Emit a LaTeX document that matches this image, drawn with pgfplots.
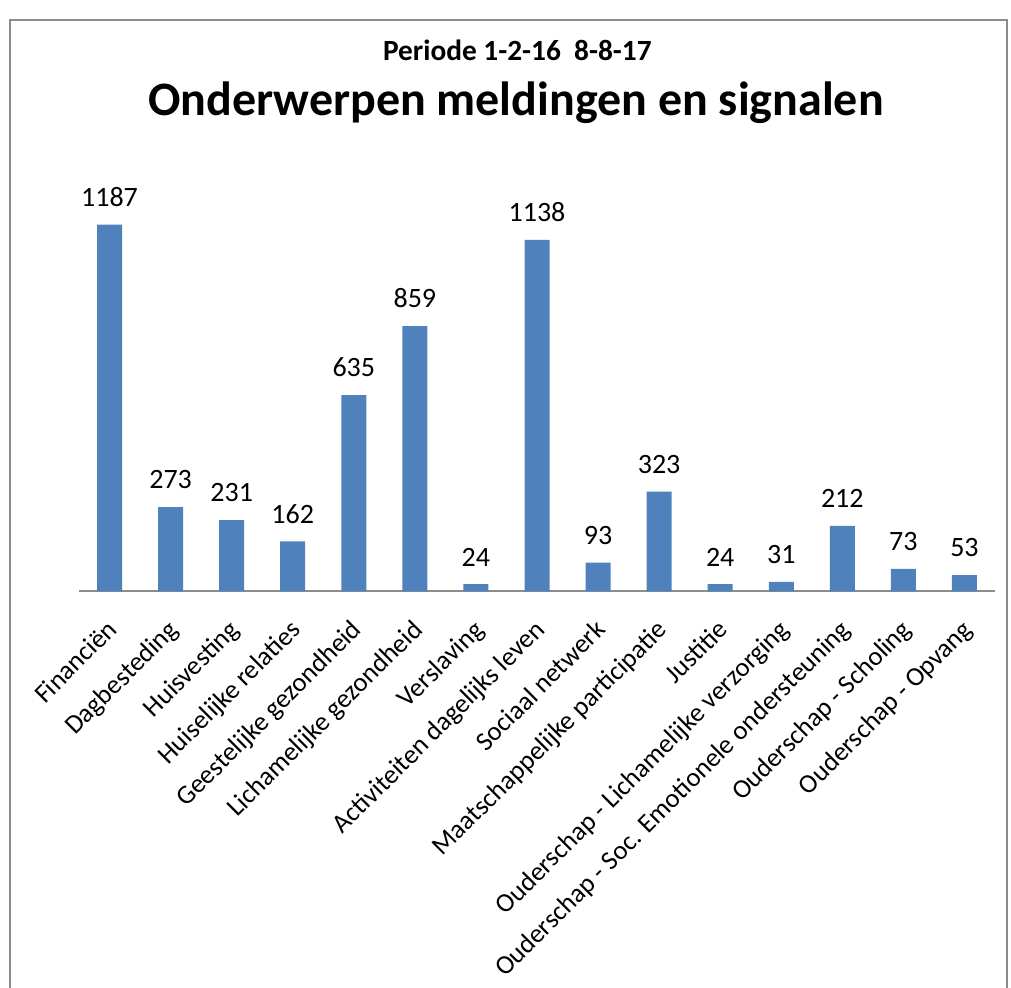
\documentclass[border=0pt]{standalone}
\usepackage{pgfplots}
\pgfplotsset{compat=1.18}
\usepackage{fontspec}
\setmainfont{Carlito}
\definecolor{barblue}{HTML}{4F81BD}
\definecolor{framegray}{HTML}{8C8C8C}
\begin{document}
\begin{tikzpicture}
\useasboundingbox (0,0) rectangle (758.25pt,741pt);
\draw[framegray, line width=1.5pt] (7.5pt,-20pt) -- (7.5pt,726pt) -- (755.5pt,726pt) -- (755.5pt,-20pt);
\node[font=\bfseries\fontsize{22}{26}\selectfont] at (388pt,703pt) {Periode 1-2-16\ \ 8-8-17};
\node[font=\bfseries\fontsize{36}{42}\selectfont] at (387pt,664pt) {Onderwerpen meldingen en signalen};
\begin{axis}[
  at={(59.25pt,297.4pt)}, anchor=south west,
  scale only axis, width=687pt, height=278.1pt,
  xmin=-0.5, xmax=14.5, ymin=0, ymax=1200,
  axis x line*=bottom, hide y axis,
  x axis line style={framegray, line width=1.5pt, -},
  xtick=data, major tick length=0pt,
  xticklabels={Financiën,Dagbesteding,Huisvesting,Huiselijke relaties,Geestelijke gezondheid,Lichamelijke gezondheid,Verslaving,Activiteiten dagelijks leven,Sociaal netwerk,Maatschappelijke participatie,Justitie,Ouderschap - Lichamelijke verzorging,Ouderschap - Soc. Emotionele ondersteuning,Ouderschap - Scholing,Ouderschap - Opvang},
  xticklabel style={xshift=-3pt, yshift=-17pt, rotate=45, anchor=north east, font=\fontsize{20}{24}\selectfont, inner sep=2pt},
  /pgf/number format/.cd, 1000 sep={}, assume math mode=true, /pgfplots/.cd,
  ybar, bar width=18.75pt,
  nodes near coords,
  every node near coord/.append style={font=\fontsize{21}{24}\selectfont, black, yshift=10pt},
  clip=false,
]
\addplot[fill=barblue, draw=none] coordinates {
(0,1187) (1,273) (2,231) (3,162) (4,635) (5,859) (6,24) (7,1138) (8,93) (9,323) (10,24) (11,31) (12,212) (13,73) (14,53)};
\end{axis}
\end{tikzpicture}
\end{document}
